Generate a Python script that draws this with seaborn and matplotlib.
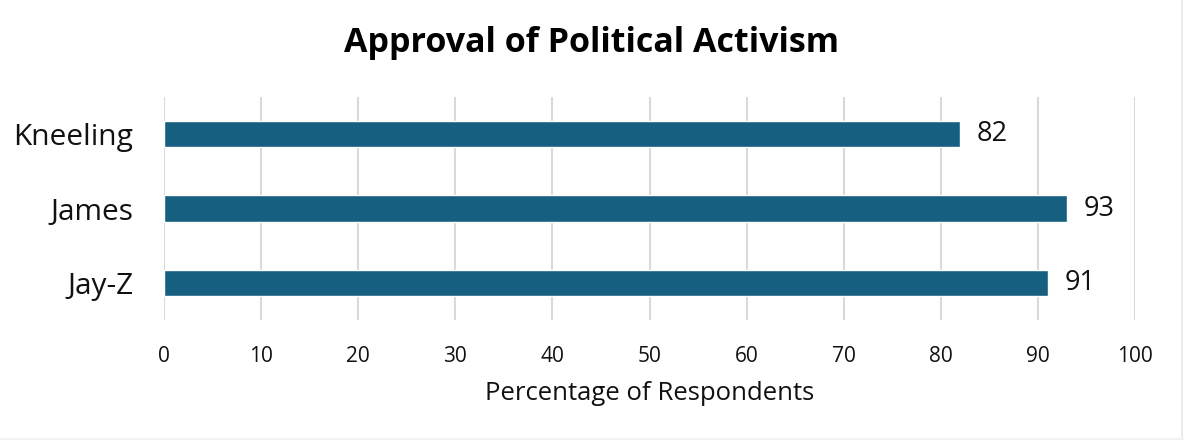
import matplotlib
matplotlib.use("Agg")
import matplotlib.pyplot as plt
from matplotlib.lines import Line2D
import seaborn as sns
import pandas as pd

categories = ["Kneeling", "James", "Jay-Z"]
values = [82, 93, 91]
x_ticks = [0, 10, 20, 30, 40, 50, 60, 70, 80, 90, 100]
title = "Approval of Political Activism"
x_label = "Percentage of Respondents"

sns.set_theme(style="white")
plt.rcParams["font.family"] = ["Open Sans", "DejaVu Sans"]

df = pd.DataFrame({"cat": categories, "val": values})

fig = plt.figure(figsize=(11.84, 4.4), dpi=100)
# faint edge on right and bottom only
fig.add_artist(Line2D([0.9985, 0.9985], [0, 1], transform=fig.transFigure,
                      color="#ececec", linewidth=1.5))
fig.add_artist(Line2D([0, 1], [0.002, 0.002], transform=fig.transFigure,
                      color="#f2f2f2", linewidth=1.5))

ax = fig.add_axes([164/1184, 1-320/440, (1135-164)/1184, (320-97)/440])

sns.barplot(data=df, y="cat", x="val", orient="h", color="#175f80",
            width=0.35, saturation=1, ax=ax, zorder=3)

ax.set_xlim(0, 100)
ax.set_ylim(2.5, -0.5)
ax.set_xticks(x_ticks)
ax.set_xticklabels([str(t) for t in x_ticks], fontsize=15, color="#111111")
ax.tick_params(axis="x", length=0, pad=19)
ax.tick_params(axis="y", length=0, pad=22, labelsize=21.5, labelcolor="#111111")
ax.grid(axis="x", color="#d9d9d9", linewidth=1.5, zorder=0)
ax.set_axisbelow(True)
for s in ax.spines.values():
    s.set_visible(False)
ax.set_ylabel("")
ax.set_xlabel(x_label, fontsize=18.5, color="#111111", labelpad=10)

for i, v in enumerate(values):
    ax.annotate(str(v), xy=(v, i), xytext=(12, 0), textcoords="offset points",
                ha="left", va="center", fontsize=19.5, color="#111111")

fig.text(591/1184, 1-43/440, title, ha="center", va="center",
         fontsize=24.5, fontweight="bold", color="#000000")

fig.savefig("out.png", dpi=100)
